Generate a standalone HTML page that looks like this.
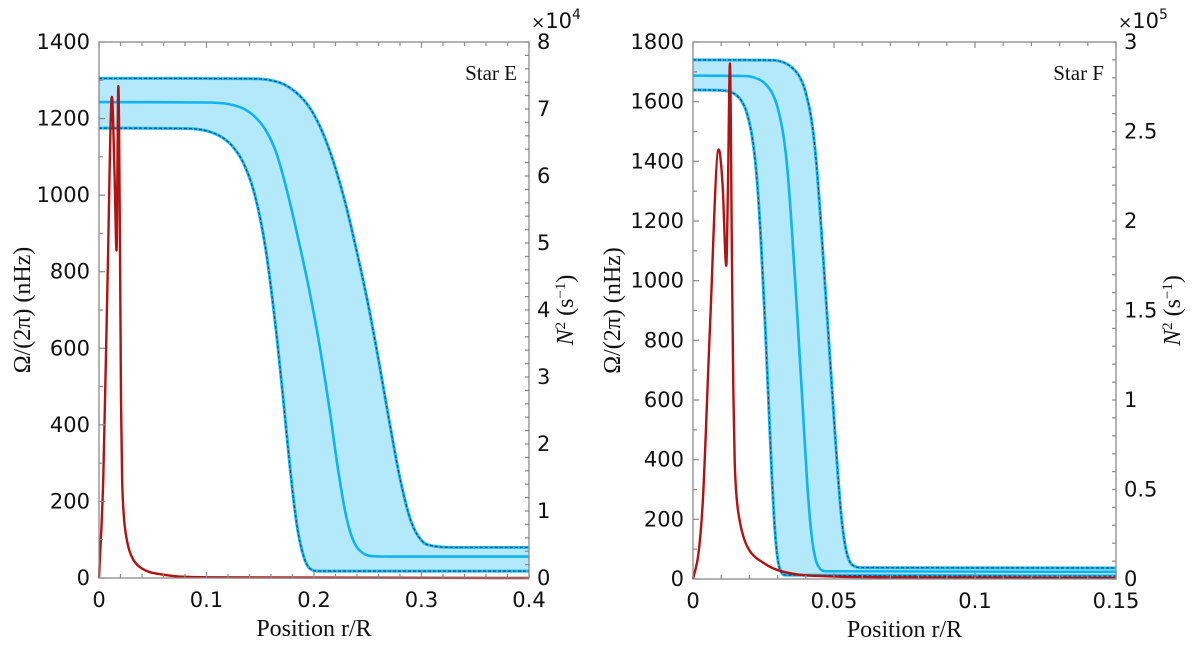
<!DOCTYPE html>
<html><head><meta charset="utf-8">
<style>
html,body{margin:0;padding:0;background:#fff;}
svg{display:block;}
.tk{font-family:"DejaVu Sans","Liberation Sans",sans-serif;font-size:21px;fill:#111;}
.sf{font-family:"Liberation Serif","DejaVu Serif",serif;fill:#111;}
</style></head>
<body>
<svg id="fig" width="1200" height="648" viewBox="0 0 1200 648" xmlns="http://www.w3.org/2000/svg">
<g id="pE"></g>
<g id="pF"></g>
</svg>
<script>
// ---- Star E data (r/R, nHz) ----
const eUpper=[[0,1305],[0.14,1304],[0.16,1300],[0.175,1285],[0.19,1250],[0.2,1210],[0.21,1150],[0.22,1070],[0.23,970],[0.24,850],[0.25,720],[0.26,570],[0.27,410],[0.28,260],[0.29,150],[0.3,98],[0.31,84],[0.33,80],[0.4,80]];
const eMid=[[0,1243],[0.1,1242],[0.12,1238],[0.135,1225],[0.145,1205],[0.155,1170],[0.165,1110],[0.175,1010],[0.185,890],[0.195,760],[0.205,610],[0.215,430],[0.222,290],[0.23,160],[0.237,95],[0.245,66],[0.255,57],[0.27,56],[0.4,56]];
const eLower=[[0,1175],[0.08,1174],[0.1,1168],[0.115,1150],[0.125,1125],[0.135,1080],[0.145,1000],[0.155,860],[0.165,640],[0.172,450],[0.178,280],[0.184,140],[0.19,60],[0.196,25],[0.205,18],[0.4,18]];
const eN2=[[0,0],[0.004,1.5],[0.008,4.5],[0.012,7.18],[0.0145,6.0],[0.0163,4.89],[0.018,7.34],[0.0195,5.0],[0.0205,2.6],[0.0215,1.5],[0.023,0.95],[0.025,0.65],[0.028,0.42],[0.032,0.27],[0.04,0.14],[0.06,0.05],[0.1,0.01],[0.4,0]];
const eXTicks=[0,0.1,0.2,0.3,0.4];
const eYTicks=[0,200,400,600,800,1000,1200,1400];
const eY2Ticks=[0,1,2,3,4,5,6,7,8];
// ---- Star F data ----
const fUpper=[[0,1740],[0.028,1739],[0.032,1732],[0.035,1715],[0.038,1680],[0.04,1630],[0.042,1540],[0.0435,1420],[0.045,1240],[0.047,960],[0.049,680],[0.051,400],[0.0525,220],[0.054,110],[0.0555,60],[0.057,44],[0.06,38],[0.15,37]];
const fMid=[[0,1687],[0.018,1686],[0.022,1680],[0.025,1665],[0.028,1630],[0.03,1580],[0.032,1490],[0.0335,1370],[0.035,1180],[0.037,880],[0.039,560],[0.0405,320],[0.042,150],[0.0435,65],[0.045,35],[0.047,26],[0.15,24]];
const fLower=[[0,1639],[0.01,1638],[0.014,1630],[0.017,1605],[0.019,1565],[0.021,1480],[0.0225,1360],[0.024,1150],[0.0255,870],[0.027,550],[0.028,340],[0.029,170],[0.030,70],[0.031,28],[0.033,13],[0.15,10]];
const fN2=[[0,0],[0.002,0.15],[0.0035,0.44],[0.006,1.4],[0.0091,2.40],[0.0105,2.2],[0.0118,1.75],[0.0124,2.2],[0.0131,2.88],[0.0138,1.8],[0.0143,1.05],[0.0148,0.65],[0.0155,0.45],[0.0165,0.33],[0.018,0.23],[0.02,0.16],[0.025,0.09],[0.03,0.05],[0.044,0.017],[0.08,0.008],[0.15,0.005]];
const fXTicks=[0,0.05,0.1,0.15];
const fYTicks=[0,200,400,600,800,1000,1200,1400,1600,1800];
const fY2Ticks=[0,0.5,1,1.5,2,2.5,3];
const fY2Labels=["0","0.5","1","1.5","2","2.5","3"];

const NS="http://www.w3.org/2000/svg";
function mk(parent,tag,attrs,text){const e=document.createElementNS(NS,tag);for(const k in attrs)e.setAttribute(k,attrs[k]);if(text!==undefined)e.textContent=text;parent.appendChild(e);return e;}
function mono(pts){
  const n=pts.length;if(n<2)return "";
  const d=[],m=[];
  for(let i=0;i<n-1;i++){d.push((pts[i+1][1]-pts[i][1])/(pts[i+1][0]-pts[i][0]));}
  m[0]=d[0];m[n-1]=d[n-2];
  for(let i=1;i<n-1;i++){m[i]=(d[i-1]*d[i]<=0)?0:(d[i-1]+d[i])/2;}
  for(let i=0;i<n-1;i++){if(d[i]===0){m[i]=0;m[i+1]=0;continue;}const a=m[i]/d[i],b=m[i+1]/d[i],s=a*a+b*b;if(s>9){const t=3/Math.sqrt(s);m[i]=t*a*d[i];m[i+1]=t*b*d[i];}}
  let p="M"+pts[0][0].toFixed(2)+","+pts[0][1].toFixed(2);
  for(let i=0;i<n-1;i++){const h=pts[i+1][0]-pts[i][0];
    p+=" C"+(pts[i][0]+h/3).toFixed(2)+","+(pts[i][1]+m[i]*h/3).toFixed(2)+" "+(pts[i+1][0]-h/3).toFixed(2)+","+(pts[i+1][1]-m[i+1]*h/3).toFixed(2)+" "+pts[i+1][0].toFixed(2)+","+pts[i+1][1].toFixed(2);}
  return p;
}
function panel(g,o){
  const {x0,x1,y0,y1,xmax,ymax,y2max}=o;
  const X=v=>x0+(x1-x0)*v/xmax, Y=v=>y1-(y1-y0)*v/ymax, Y2=v=>y1-(y1-y0)*v/y2max;
  const up=o.upper.map(p=>[X(p[0]),Y(p[1])]), lo=o.lower.map(p=>[X(p[0]),Y(p[1])]), mid=o.mid.map(p=>[X(p[0]),Y(p[1])]);
  const loRev=mono(lo.slice().reverse()).replace(/^M/,"L");
  const band=mk(g,"path",{d:mono(up)+" "+loRev+" Z",fill:"#b4e9fb",stroke:"none"});
  
  
  [up,lo].forEach((c,i)=>{
    const a=mk(g,"path",{d:mono(c),fill:"none",stroke:"#1fb8ee","stroke-width":3});
    
    
    const b=mk(g,"path",{d:mono(c),fill:"none",stroke:"#14466e","stroke-width":1.1,"stroke-dasharray":"3 2"});
    
    
  });
  const ml=mk(g,"path",{d:mono(mid),fill:"none",stroke:"#0fb4ef","stroke-width":2.6});
  
  
  const red=mk(g,"path",{d:mono(o.n2.map(p=>[X(p[0]),Y2(p[1])])),fill:"none",stroke:"#b11212","stroke-width":2.4,"stroke-linejoin":"round"});
  
  
  const box=mk(g,"rect",{x:x0,y:y0,width:x1-x0,height:y1-y0,fill:"none",stroke:"#8a8a8a","stroke-width":1.3});
  
  
  const tg=mk(g,"g",{stroke:"#8a8a8a","stroke-width":1.2});
  for(let v=0;v<=xmax+1e-9;v+=o.xminor){const x=X(v);const L=o.xticks.some(t=>Math.abs(t-v)<1e-9)?6:4;mk(tg,"line",{x1:x,x2:x,y1:y1,y2:y1-L});mk(tg,"line",{x1:x,x2:x,y1:y0,y2:y0+L});}
  for(let v=0;v<=ymax+1e-9;v+=o.yminor){const y=Y(v);mk(tg,"line",{x1:x0,x2:x0+(v%o.ymajor===0?6:4),y1:y,y2:y});}
  for(let v=0;v<=y2max+1e-9;v+=o.y2minor){const y=Y2(v);mk(tg,"line",{x1:x1,x2:x1-4,y1:y,y2:y});}
  o.xticks.forEach(v=>{const t=mk(g,"text",{class:"tk",x:X(v),y:y1+29,"text-anchor":"middle"},String(v));});
  o.yticks.forEach(v=>{const t=mk(g,"text",{class:"tk",x:x0-9,y:Y(v)+7,"text-anchor":"end"},String(v));});
  o.y2ticks.forEach((v,i)=>{const t=mk(g,"text",{class:"tk",x:x1+8,y:Y2(v)+7,"text-anchor":"start"},o.y2labels[i]);});
  const ex=mk(g,"text",{class:"tk",x:x1+2,y:y0-14},"");
  
  
  mk(ex,"tspan",{"font-size":"17"},"×");mk(ex,"tspan",{},"10");mk(ex,"tspan",{dy:-9,"font-size":"14"},o.exp);
  const st=mk(g,"text",{class:"sf",x:x1-12,y:y0+38,"text-anchor":"end","font-size":"21"},o.title);
  
  
  const xl=mk(g,"text",{class:"sf",x:(x0+x1)/2,y:y1+58,"text-anchor":"middle","font-size":"24"},"Position r/R");
  
  
  const yl=mk(g,"text",{class:"sf","font-size":"24","text-anchor":"middle",transform:`translate(${o.ylx},${(y0+y1)/2}) rotate(-90)`},"Ω/(2π) (nHz)");
  
  
  const y2l=mk(g,"text",{class:"sf","font-size":"24","text-anchor":"middle",transform:`translate(${o.y2lx},${(y0+y1)/2}) rotate(-90)`},"");
  
  
  mk(y2l,"tspan",{"font-style":"italic"},"N");mk(y2l,"tspan",{dy:-8,"font-size":"15"},"2");mk(y2l,"tspan",{dy:8}," (s");mk(y2l,"tspan",{dy:-8,"font-size":"15"},"−1");mk(y2l,"tspan",{dy:8},")");
}
panel(document.getElementById("pE"),{x0:99,x1:529,y0:42,y1:578,xmax:0.4,ymax:1400,y2max:8,xminor:0.02,yminor:100,ymajor:200,y2minor:0.2,
  upper:eUpper,mid:eMid,lower:eLower,n2:eN2,xticks:eXTicks,yticks:eYTicks,y2ticks:eY2Ticks,y2labels:eY2Ticks.map(String),exp:"4",title:"Star E",ylx:30,y2lx:573});
panel(document.getElementById("pF"),{x0:693,x1:1116,y0:42,y1:579,xmax:0.15,ymax:1800,y2max:3,xminor:0.01,yminor:100,ymajor:200,y2minor:0.1,
  upper:fUpper,mid:fMid,lower:fLower,n2:fN2,xticks:fXTicks,yticks:fYTicks,y2ticks:fY2Ticks,y2labels:fY2Labels,exp:"5",title:"Star F",ylx:620,y2lx:1180});
</script>
</body></html>
